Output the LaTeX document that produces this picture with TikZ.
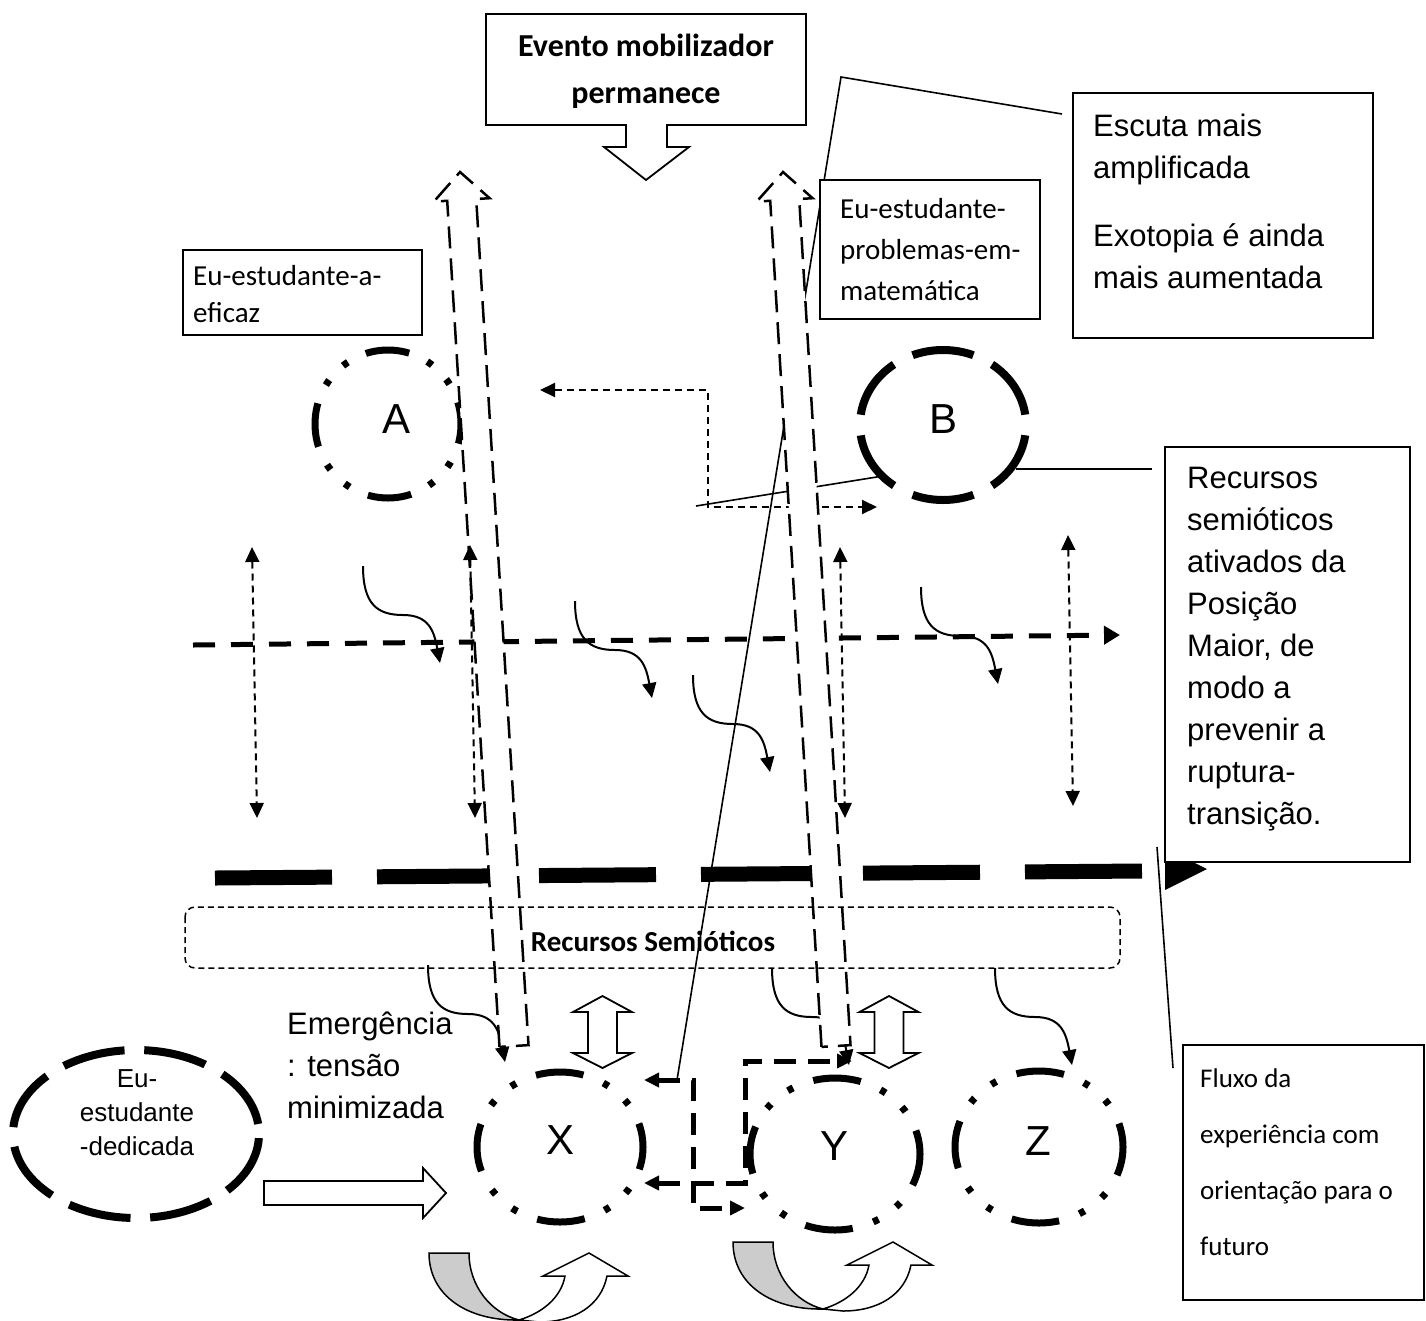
\documentclass[tikz,border=0pt]{standalone}
\usepackage{fontspec}
\setmainfont{Liberation Sans}
\newfontfamily\calfont{Carlito}
\usetikzlibrary{arrows.meta}
\begin{document}
\begin{tikzpicture}[x=1pt,y=-1pt,
  fine/.style={line width=1.6pt},
  frame/.style={draw,line width=1.8pt,fill=white},
  thindash/.style={line width=2pt,dash pattern=on 7pt off 5pt},
  middash/.style={line width=5pt,dash pattern=on 22pt off 16pt},
  elbow/.style={line width=5pt,dash pattern=on 22pt off 12pt},
  tall/.style={draw,fill=white,line width=2.5pt,dash pattern=on 22pt off 10pt,line join=miter},
  hollow/.style={draw,fill=white,line width=1.8pt,line join=miter},
  dashring/.style={line width=8pt,dash pattern=on 62pt off 20.8pt,dash phase=72.4pt},
  longring/.style={line width=8pt,dash pattern=on 63pt off 19.7pt,dash phase=72.6pt},
  dotring/.style={line width=7pt,dash pattern=on 48pt off 21.5pt on 6pt off 21.5pt on 6pt off 21.5pt,dash phase=24pt},
  dotringA/.style={line width=7pt,dash pattern=on 44pt off 20pt on 6pt off 20pt on 6pt off 20pt,dash phase=22pt},
  tipT/.tip={Triangle[length=15pt,width=14pt]},
  wave/.style={line width=2pt,-tipT},
  lbl/.style={inner sep=0pt,anchor=base west},
  lblc/.style={inner sep=0pt,anchor=base},
  ar31/.style={font=\fontsize{31}{38}\selectfont},
  ar26/.style={font=\fontsize{26}{32}\selectfont},
  big/.style={font=\fontsize{42}{50}\selectfont},
  cal29/.style={font=\calfont\fontsize{29}{35}\selectfont},
  cal27/.style={font=\calfont\fontsize{27}{33}\selectfont},
  calb/.style={font=\calfont\bfseries\fontsize{29}{35}\selectfont},
  calbig/.style={font=\calfont\bfseries\fontsize{32}{38}\selectfont},
  uturnback/.style={draw,line width=1.5pt,fill=black!20},
  uturnfront/.style={draw,line width=1.5pt,fill=white}
]
\useasboundingbox (0,0) rectangle (1426,1320);

% ---------- flow lines in the background ----------
\coordinate (flowL) at (215,878);
\coordinate (flowR) at (1143,871);
\draw[line width=15pt,dash pattern=on 117pt off 45pt] (flowL) -- (flowR);
\fill (1165,848) -- (1207,869) -- (1165,890) -- cycle;

\coordinate (midL) at (193,645);
\coordinate (midR) at (1120,635);
\draw[middash,-{Triangle[length=16pt,width=18pt]}] (midL) -- (midR);

\coordinate (abL) at (540,390);
\coordinate (abB) at (877,507);
\draw[thindash,tipT-tipT] (abL) -- (708,390) -- (708,507) -- (abB);
\draw[fine] (696,506) -- (883,476);

% callout lines
\coordinate (escStart) at (1062,114);
\coordinate (escApex) at (841,77);
\coordinate (escEnd) at (677,1080);
\draw[fine] (escStart) -- (escApex) -- (escEnd);
\draw[fine] (1016,469) -- (1152,469);
\draw[fine] (1157,847) -- (1173,1068);

% ---------- positions (rings) ----------
\coordinate (cA) at (388,424);
\coordinate (cB) at (943,425);
\coordinate (cX) at (560,1147);
\coordinate (cY) at (835,1154);
\coordinate (cZ) at (1039,1147);
\coordinate (cD) at (136,1134);
\draw[dotringA] (cA) ellipse [x radius=73pt,y radius=74pt];
\draw[dashring] (cB) ellipse [x radius=83pt,y radius=75pt];
\draw[dotring] (cX) ellipse [x radius=83pt,y radius=75pt];
\draw[dotring] (cY) ellipse [x radius=85pt,y radius=76pt];
\draw[dotring] (cZ) ellipse [x radius=84pt,y radius=76pt];
\draw[longring] (cD) ellipse [x radius=123pt,y radius=84pt];

% ---------- wavy arrows ----------
\foreach \sx/\sy [count=\i] in {363/566,575/601,693/675,921/587,428/965,772/968,995/968}{
  \coordinate (ws\i) at (\sx,\sy);
  \coordinate (we\i) at (\sx+77,\sy+97);
  \draw[wave] (ws\i) .. controls (\sx,\sy+38) and (\sx+14,\sy+49) .. (\sx+40,\sy+49)
                    .. controls (\sx+66,\sy+49) and (\sx+71,\sy+65) .. (we\i);
}

% ---------- tall hollow dashed arrows ----------
\draw[tall] (499.5,1046.9) -- (447.2,200.8) -- (433.8,201.6) -- (460,172)
  -- (489.6,198.2) -- (476.2,199.0) -- (528.5,1045.1) -- cycle;
\draw[tall] (821.5,1046.9) -- (770.2,200.8) -- (756.7,201.6) -- (783,172)
  -- (812.6,198.2) -- (799.2,199.0) -- (850.5,1045.1) -- cycle;

% ---------- vertical double arrows ----------
\foreach \xa/\ya/\xb/\yb [count=\i] in {252/547/257/818,470/545/475/818,840/547/845/818,1068/535/1073/806}{
  \coordinate (vt\i) at (\xa,\ya);
  \coordinate (vb\i) at (\xb,\yb);
  \draw[thindash,tipT-tipT] (vt\i) -- (vb\i);
}

% ---------- semiotic resources band ----------
\draw[line width=1.5pt,dash pattern=on 6pt off 4pt,rounded corners=10pt] (185,907) rectangle (1120,968);
\node[lblc,calb] (rsem) at (653,951) {Recursos Semióticos};

% ---------- lower part ----------
\foreach \cx [count=\i] in {602.5,889}{
  \draw[hollow] (\cx,996) -- (\cx+29.5,1012) -- (\cx+14.5,1012) -- (\cx+14.5,1053) -- (\cx+29.5,1053)
    -- (\cx,1068) -- (\cx-29.5,1053) -- (\cx-14.5,1053) -- (\cx-14.5,1012) -- (\cx-29.5,1012) -- cycle;
}
\draw[elbow,tipT-tipT] (644,1183) -- (745,1183) -- (745,1061) -- (852,1061);
\draw[elbow,tipT-tipT] (644,1080) -- (693,1080) -- (693,1208) -- (745,1208);

\draw[hollow] (264,1181) -- (423,1181) -- (423,1168) -- (446,1193) -- (423,1218) -- (423,1205) -- (264,1205) -- cycle;

\foreach \dx/\dy in {0/0,-304/11}{
  \begin{scope}[shift={(\dx,\dy)}]
    \draw[uturnback] (733,1242) -- (773,1242) .. controls (773,1275) and (795,1302) .. (823,1309)
      .. controls (772,1310) and (733,1285) .. cycle;
    \draw[uturnfront] (823,1309) .. controls (846,1302) and (865,1287) .. (869,1265) -- (847,1265)
      -- (893,1242) -- (932,1265) -- (911,1265) .. controls (905,1295) and (878,1311) .. (843,1311) -- cycle;
  \end{scope}
}

% ---------- text boxes ----------
\draw[frame] (486,14) -- (806,14) -- (806,125) -- (667,125) -- (667,147) -- (689,147) -- (646,180)
  -- (604,147) -- (626,147) -- (626,125) -- (486,125) -- cycle;
\node[lblc,calbig] (ev1) at (646,56) {Evento mobilizador};
\node[lblc,calbig] (ev2) at (646,103) {permanece};

\draw[frame] (183,250) rectangle (422,335);
\node[lbl,cal29] (ef1) at (193,285) {Eu-estudante-a-};
\node[lbl,cal29] (ef2) at (193,322) {eficaz};

\draw[frame] (820,180) rectangle (1040,319);
\foreach \t [count=\i] in {Eu-estudante-,problemas-em-,matemática}
  \node[lbl,cal29] (pr\i) at (840,{177+41*\i}) {\t};

\draw[frame] (1073,93) rectangle (1373,338);
\foreach \t [count=\i] in {Escuta mais,amplificada}
  \node[lbl,ar31] (es\i) at (1093,{94+42*\i}) {\t};
\foreach \t [count=\i] in {Exotopia é ainda,mais aumentada}
  \node[lbl,ar31] (ex\i) at (1093,{204+42*\i}) {\t};

\draw[frame] (1165,447) rectangle (1410,862);
\foreach \t [count=\i] in {Recursos,semióticos,ativados da,Posição,{Maior, de},modo a,prevenir a,ruptura-,transição.}
  \node[lbl,ar31] (ra\i) at (1187,{446+42*\i}) {\t};

\draw[frame] (1183,1045) rectangle (1424,1300);
\foreach \t [count=\i] in {Fluxo da,experiência com,orientação para o,futuro}
  \node[lbl,cal27] (fl\i) at (1200,{1031+56*\i}) {\t};

\foreach \t [count=\i] in {Emergência,: tensão,minimizada}
  \node[lbl,ar31] (em\i) at (287,{992+42*\i}) {\t};

\foreach \t [count=\i] in {Eu-,estudante,-dedicada}
  \node[lblc,ar26] (dd\i) at (137,{1053+34*\i}) {\t};

% ---------- ring letters ----------
\node[lblc,big] (lA) at (397,433) {A};
\node[lblc,big] (lB) at (943,433) {B};
\node[lblc,big] (lX) at (560,1154) {X};
\node[lblc,big] (lY) at (834,1160) {Y};
\node[lblc,big] (lZ) at (1038,1155) {Z};
\end{tikzpicture}
\end{document}
